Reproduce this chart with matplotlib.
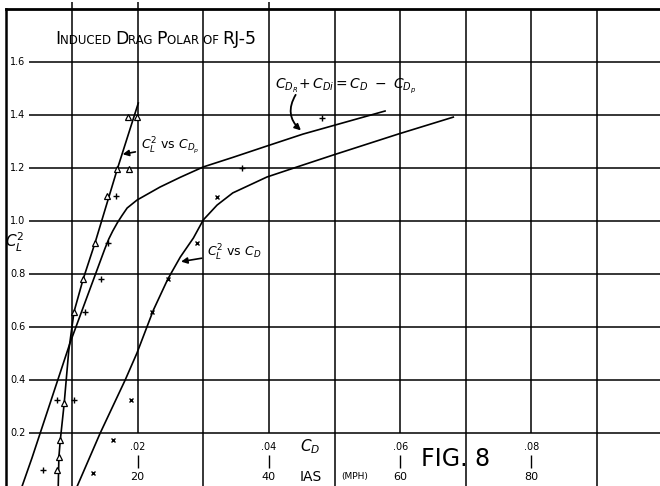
import matplotlib.pyplot as plt
from matplotlib.offsetbox import TextArea, HPacker, AnchoredOffsetbox

# C_L^2 vs C_Dp (triangles)
cdp_line_x = [0.0079, 0.0080, 0.0082, 0.0088, 0.0095, 0.0103, 0.0117, 0.0135, 0.0169, 0.0201]
cdp_line_y = [0.00, 0.11, 0.17, 0.31, 0.51, 0.657, 0.781, 0.917, 1.196, 1.445]
cdp_pts_x = [0.0199, 0.0185, 0.0169, 0.0187, 0.0153, 0.0135, 0.0117, 0.0103, 0.0088, 0.0082, 0.0080, 0.0077]
cdp_pts_y = [1.392, 1.392, 1.196, 1.196, 1.094, 0.917, 0.781, 0.657, 0.313, 0.174, 0.109, 0.060]

# C_DR + C_Di = C_D - C_Dp (plus signs)
cdi_line_x = [0.0024, 0.0039, 0.0097, 0.0150, 0.0156, 0.0162, 0.0169, 0.0176, 0.0184, 0.0199,
              0.0234, 0.0265, 0.0300, 0.0345, 0.0397, 0.0452, 0.0577]
cdi_line_y = [0.000, 0.106, 0.540, 0.895, 0.932, 0.962, 0.993, 1.020, 1.049, 1.079,
              1.128, 1.165, 1.204, 1.240, 1.283, 1.328, 1.415]
cdi_pts_x = [0.0056, 0.0077, 0.0103, 0.0120, 0.0144, 0.0155, 0.0167, 0.0359, 0.0481]
cdi_pts_y = [0.060, 0.325, 0.325, 0.657, 0.781, 0.917, 1.094, 1.200, 1.389]

# C_L^2 vs C_D
cd_line_x = [0.0108, 0.0143, 0.0181, 0.0199, 0.0224, 0.0246, 0.0265, 0.0285, 0.0300,
             0.0321, 0.0345, 0.0397, 0.0443, 0.0498, 0.0597, 0.0681]
cd_line_y = [0.000, 0.200, 0.400, 0.502, 0.664, 0.781, 0.864, 0.936, 1.004,
             1.060, 1.106, 1.166, 1.204, 1.249, 1.328, 1.392]
cd_pts_x = [0.0132, 0.0163, 0.0190, 0.0222, 0.0246, 0.0291, 0.0321]
cd_pts_y = [0.049, 0.174, 0.325, 0.657, 0.781, 0.917, 1.091]

# axes / grid
XMAX = 0.0996
full_vlines = [0.01, 0.03, 0.05, 0.07, 0.09]
part_vlines = [0.02, 0.04, 0.06, 0.08]
hlines = [0.2, 0.4, 0.6, 0.8, 1.0, 1.2, 1.4, 1.6]
ylabels = ["0.2", "0.4", "0.6", "0.8", "1.0", "1.2", "1.4", "1.6"]
cd_labels = [".02", ".04", ".06", ".08"]
ias_labels = ["20", "40", "60", "80"]

fig = plt.figure(figsize=(6.6, 4.86), dpi=100)
ax = fig.add_axes([6.4 / 660, 0, 1 - 6.4 / 660, 477 / 486])
ax.set_xlim(0, XMAX)
ax.set_ylim(0, 1.8)
ax.set_xticks([])
ax.set_yticks([])
for s in ["right", "bottom"]:
    ax.spines[s].set_visible(False)
ax.spines["top"].set_linewidth(2)
ax.spines["left"].set_linewidth(1.8)

# Gitter
ax.vlines(full_vlines, 0, 1.8, color="black", lw=1.1)
ax.vlines(part_vlines, 0.2, 1.8, color="black", lw=1.1)
ax.vlines(part_vlines, 0.068, 0.117, color="black", lw=1.0)
ax.vlines([0.01, 0.02, 0.04], 1.8, 1.826, color="black", lw=1.1, clip_on=False)
ax.hlines(hlines, 0.0034, XMAX, color="black", lw=1.1)

for yv, lab in zip(hlines, ylabels):
    ax.text(0.0006, yv, lab, fontsize=7, ha="left", va="center")
for xv, lab, ias in zip(part_vlines, cd_labels, ias_labels):
    ax.text(xv, 0.147, lab, fontsize=7, ha="center", va="center")
    ax.text(xv, 0.034, ias, fontsize=8, ha="center", va="center")

# Kurven
ax.plot(cdp_line_x, cdp_line_y, color="black", lw=1.2)
ax.plot(cdi_line_x, cdi_line_y, color="black", lw=1.2)
ax.plot(cd_line_x, cd_line_y, color="black", lw=1.2)
ax.plot(cdp_pts_x, cdp_pts_y, "^", mfc="white", mec="black", ms=4.5, mew=0.9)
ax.plot(cdi_pts_x, cdi_pts_y, "+", color="black", ms=5, mew=1.0)
ax.plot(cd_pts_x, cd_pts_y, "x", color="black", ms=2.5, mew=1.0)

# Beschriftungen
ax.annotate(r"$C_L^2$ vs $C_{D_p}$", xy=(0.0173, 1.25), xytext=(0.0205, 1.285),
            fontsize=9, ha="left", va="center",
            arrowprops=dict(arrowstyle="-|>", color="black", lw=1.2, mutation_scale=9))
ax.annotate(r"$C_L^2$ vs $C_D$", xy=(0.0262, 0.845), xytext=(0.0306, 0.88),
            fontsize=9, ha="left", va="center",
            arrowprops=dict(arrowstyle="-|>", color="black", lw=1.2, mutation_scale=9))
ax.text(0.0410, 1.51, r"$C_{D_R}\!+C_{Di} = C_D\ -\ C_{D_p}$", fontsize=10,
        ha="left", va="center")
ax.annotate("", xy=(0.0452, 1.335), xytext=(0.0443, 1.485),
            arrowprops=dict(arrowstyle="-|>", color="black", lw=1.3, mutation_scale=9,
                            connectionstyle="arc3,rad=0.45"))

ax.text(0.00131, 0.92, r"$C_L^2$", fontsize=11, ha="center", va="center")
ax.text(0.0448, 0.147, r"$C_D$", fontsize=11, ha="left", va="center")
ax.text(0.0464, 0.034, "IAS", fontsize=10, ha="center", va="center")
ax.text(0.0531, 0.034, "(MPH)", fontsize=6.5, ha="center", va="center")
ax.text(0.0684, 0.102, "FIG. 8", fontsize=17, ha="center", va="center",
        family=["Liberation Sans Narrow", "DejaVu Sans"])

# Titel in Kapitaelchen
big = dict(fontsize=12.5, color="black")
small = dict(fontsize=8.5, color="black")
parts = [("I", big), ("NDUCED ", small), ("D", big), ("RAG ", small), ("P", big),
         ("OLAR ", small), ("OF ", small), ("RJ-5", big)]
title = HPacker(children=[TextArea(t, textprops=p) for t, p in parts],
                align="baseline", pad=0, sep=0)
ab = AnchoredOffsetbox(loc="lower left", child=title, pad=0, borderpad=0, frameon=False,
                       bbox_to_anchor=(55 / 660, (486 - 48) / 486),
                       bbox_transform=fig.transFigure)
fig.add_artist(ab)

fig.savefig("out.png", dpi=100)
